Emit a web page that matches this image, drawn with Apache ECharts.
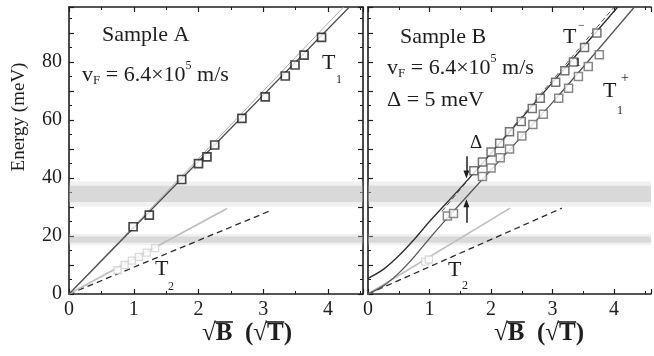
<!DOCTYPE html>
<html>
<head>
<meta charset="utf-8">
<script src="https://cdn.jsdelivr.net/npm/echarts@6/dist/echarts.min.js"></script>
<style>
  html, body { margin: 0; padding: 0; background: #ffffff; }
  #chart { width: 654px; height: 356px; }
</style>
</head>
<body>
<div id="chart"></div>
<script>
// ---- Sample A: magneto-optical transitions, E vs sqrt(B) ----
const aT1X = [0.99, 1.24, 1.74, 2.00, 2.13, 2.25, 2.67, 3.03, 3.34, 3.49, 3.63, 3.90];
const aT1E = [23.2, 27.2, 39.5, 45.0, 47.3, 51.4, 60.6, 68.0, 75.2, 79.0, 82.4, 88.5];
const aT2X = [0.75, 0.86, 0.97, 1.08, 1.20, 1.33];
const aT2E = [8.2, 10.0, 11.5, 12.8, 14.3, 15.8];
const aLineT1 = [[0, 0], [4.33, 99]];
const aLineT1b = [[0, 0], [4.24, 99]];
const aLineGray = [[0, 0], [2.44, 29.5]];
const aLineT2 = [[0, 0], [3.14, 29.0]];

// ---- Sample B: gapped spectrum, split T1 transitions ----
const bT1mX = [1.72, 1.86, 2.00, 2.14, 2.30, 2.49, 2.67, 2.80, 3.05, 3.20, 3.34, 3.52, 3.72];
const bT1mE = [42.5, 45.5, 49.0, 52.0, 56.0, 59.5, 64.0, 67.5, 73.0, 77.0, 80.0, 85.0, 90.0];
const bT1pX = [1.29, 1.39, 1.86, 2.00, 2.15, 2.30, 2.50, 2.68, 2.85, 3.10, 3.26, 3.42, 3.58, 3.76];
const bT1pE = [26.9, 27.8, 40.5, 43.5, 47.0, 50.0, 54.5, 58.5, 62.0, 67.5, 71.0, 75.0, 78.5, 82.5];
const bT2X = [0.93, 0.99];
const bT2E = [11.2, 11.9];
const bLineT1m = [[0, 5.4], [0.25, 8.5], [0.5, 13.2], [0.75, 18.8], [1.0, 25.0], [1.5, 36.5], [2.0, 48.5], [3.0, 73.0], [4.06, 99]];
const bLineT1mDash = [[1.2, 28.5], [4.0, 99]];
const bLineT1p = [[0, 0], [0.25, 2.8], [0.5, 7.2], [0.75, 12.8], [1.0, 19.2], [1.31, 26.7], [2.0, 42.8], [3.0, 66.1], [4.33, 99]];
const bLineGray = [[0, 0], [2.31, 29.6]];
const bLineT2 = [[0, 0], [3.15, 29.6]];
const gapArrowX = 1.6;
const gapArrowDown = [47.5, 41.2];
const gapArrowUp = [24.6, 31.3];

// Absorption bands (meV)
const bandUpper = [31.0, 38.0];
const bandLower = [17.3, 20.2];

// Axis ranges / ticks
const xMaxA = 4.54, xMaxB = 4.6, yMax = 99;
const xTickStep = 1, yTickStep = 10, yLabelStep = 20;

const SERIF = '"Liberation Serif", "Times New Roman", serif';
const INK = '#1e1e1e';

function zip(xs, ys) { return xs.map((x, i) => [x, ys[i]]); }

function xAxisCfg(grid, max, pos, labels) {
  return {
    type: 'value', gridIndex: grid, position: pos, min: 0, max: max, interval: xTickStep,
    axisLine: { show: true, onZero: false, lineStyle: { color: INK, width: 1.6 } },
    axisTick: { show: true, inside: true, length: 5, lineStyle: { color: INK, width: 1.2 } },
    minorTick: { show: true, splitNumber: 2, length: 3, lineStyle: { color: INK, width: 1 } },
    axisLabel: {
      show: labels, margin: 6, color: INK, fontFamily: SERIF, fontSize: 20,
      formatter: v => Math.abs(v - Math.round(v)) < 1e-6 ? String(Math.round(v)) : ''
    },
    splitLine: { show: false }
  };
}
function yAxisCfg(grid, pos, labels) {
  return {
    type: 'value', gridIndex: grid, position: pos, min: 0, max: yMax, interval: yTickStep,
    axisLine: { show: true, onZero: false, lineStyle: { color: INK, width: 1.6 } },
    axisTick: { show: true, inside: true, length: 5, lineStyle: { color: INK, width: 1.2 } },
    minorTick: { show: true, splitNumber: 2, length: 3, lineStyle: { color: INK, width: 1 } },
    axisLabel: {
      show: labels, margin: 7, color: INK, fontFamily: SERIF, fontSize: 20,
      formatter: v => (Math.abs(v % yLabelStep) < 1e-6 && v <= 80) ? String(v) : ''
    },
    splitLine: { show: false }
  };
}

function bands() {
  const halo = 'rgba(185,185,185,0.22)';
  const core = 'rgba(180,180,180,0.38)';
  return {
    silent: true,
    data: [
      [{ yAxis: bandUpper[0] - 0.8, itemStyle: { color: halo } }, { yAxis: bandUpper[1] + 0.8 }],
      [{ yAxis: bandUpper[0] + 0.7, itemStyle: { color: core } }, { yAxis: bandUpper[1] - 0.7 }],
      [{ yAxis: bandLower[0] - 0.5, itemStyle: { color: halo } }, { yAxis: bandLower[1] + 0.5 }],
      [{ yAxis: bandLower[0] + 0.4, itemStyle: { color: core } }, { yAxis: bandLower[1] - 0.4 }]
    ]
  };
}

function line(xi, yi, data, color, width, type, extra) {
  return Object.assign({
    type: 'line', xAxisIndex: xi, yAxisIndex: yi, data: data, showSymbol: false, z: 3,
    lineStyle: { color: color, width: width, type: type || 'solid' }, silent: true
  }, extra || {});
}
function squares(xi, yi, data, stroke, size, bw) {
  return {
    type: 'scatter', xAxisIndex: xi, yAxisIndex: yi, data: data, symbol: 'rect', symbolSize: size, z: 5,
    itemStyle: { color: '#ffffff', borderColor: stroke, borderWidth: bw || 1.5 }, silent: true
  };
}

// ---- text layout helpers ----
const ctx = document.createElement('canvas').getContext('2d');
function textW(t, size, weight) {
  ctx.font = (weight || 'normal') + ' ' + size + 'px ' + SERIF;
  return ctx.measureText(t).width;
}
function txt(t, x, y, size, opts) {
  opts = opts || {};
  return {
    type: 'text', x: x, y: y, rotation: opts.rotation || 0, z: 20, silent: true,
    style: {
      text: t, fill: opts.color || INK,
      font: (opts.weight || 'normal') + ' ' + size + 'px ' + SERIF,
      align: opts.align || 'left', textAlign: opts.align || 'left',
      verticalAlign: 'middle', textVerticalAlign: 'middle'
    }
  };
}
// A run of text pieces [text, size, dy] laid out left to right
function run(pieces, x, y) {
  const out = [];
  let cx = x;
  pieces.forEach(p => {
    out.push(txt(p[0], cx, y + (p[2] || 0), p[1]));
    cx += textW(p[0], p[1]);
  });
  return out;
}
// "√B (√T)" axis title with the radical bars drawn over B and T
function sqrtTitle(cx, cy) {
  const s = 25, w = 'bold';
  const parts = ['√', 'B', '  (', '√', 'T', ')'];
  const widths = parts.map(p => textW(p, s, w));
  const total = widths.reduce((a, b) => a + b, 0);
  let x = cx - total / 2;
  const els = [];
  parts.forEach((p, i) => {
    els.push(txt(p, x, cy, s, { weight: w }));
    if (p === 'B' || p === 'T') {
      els.push({
        type: 'line', z: 20, silent: true,
        shape: { x1: x - 1, y1: cy - 12, x2: x + widths[i] + 0.5, y2: cy - 12 },
        style: { stroke: INK, lineWidth: 1.6 }
      });
    }
    x += widths[i];
  });
  return els;
}

const graphics = [].concat(
  [txt('Energy (meV)', 19, 117, 19, { rotation: Math.PI / 2, align: 'center' })],
  sqrtTitle(247, 334),
  sqrtTitle(539, 334),
  // Sample A labels
  [txt('Sample A', 102, 35, 22)],
  run([['v', 22], ['F', 13, 6], [' = 6.4×10', 22], ['5', 12, -9], [' m/s', 22]], 82, 75),
  [txt('T', 322, 63, 22), txt('1', 336, 80, 12)],
  [txt('T', 155, 269, 22), txt('2', 168, 287, 12)],
  // Sample B labels
  [txt('Sample B', 400, 37, 22)],
  run([['v', 22], ['F', 13, 6], [' = 6.4×10', 22], ['5', 12, -9], [' m/s', 22]], 387, 68),
  [txt('Δ = 5 meV', 387, 100, 22)],
  [txt('T', 563, 37, 22), txt('−', 578, 26, 12), txt('1', 575, 63, 12)],
  [txt('T', 603, 91, 22), txt('+', 621, 78, 14), txt('1', 617, 111, 12)],
  [txt('T', 448, 270, 22), txt('2', 462, 286, 12)],
  [txt('Δ', 470, 143, 19)]
);

const option = {
  animation: false,
  backgroundColor: '#ffffff',
  grid: [
    { left: 69, top: 7, width: 294, height: 287 },
    { left: 368, top: 7, width: 299, height: 287 }
  ],
  xAxis: [
    xAxisCfg(0, xMaxA, 'bottom', true),
    xAxisCfg(0, xMaxA, 'top', false),
    xAxisCfg(1, xMaxB, 'bottom', true),
    xAxisCfg(1, xMaxB, 'top', false)
  ],
  yAxis: [
    yAxisCfg(0, 'left', true),
    yAxisCfg(0, 'right', false),
    yAxisCfg(1, 'left', false)
  ],
  series: [
    // Sample A
    line(0, 0, aLineT2, '#2a2a2a', 1.3, [6, 4], { markArea: bands(), z: 2 }),
    line(0, 0, aLineGray, '#bdbdbd', 1.6),
    line(0, 0, aLineT1b, '#ababab', 1.0),
    line(0, 0, aLineT1, '#4a4a4a', 1.2),
    squares(0, 0, zip(aT2X, aT2E), '#d0d0d0', 7, 1.3),
    squares(0, 0, zip(aT1X, aT1E), '#1a1a1a', 8, 1.7),
    // Sample B
    line(2, 2, bLineT2, '#2a2a2a', 1.3, [6, 4], { markArea: bands(), z: 2 }),
    line(2, 2, bLineGray, '#bdbdbd', 1.6),
    line(2, 2, bLineT1p, '#555555', 1.3, 'solid', { smooth: 0.3 }),
    line(2, 2, bLineT1m, '#2a2a2a', 1.3, 'solid', { smooth: 0.3 }),
    line(2, 2, bLineT1mDash, '#555555', 1.0, [5, 3]),
    squares(2, 2, zip(bT2X, bT2E), '#d0d0d0', 7, 1.3),
    squares(2, 2, zip(bT1mX, bT1mE), '#505050', 8),
    squares(2, 2, zip(bT1pX, bT1pE), '#6a6a6a', 8),
    {
      type: 'line', xAxisIndex: 2, yAxisIndex: 2, data: [], silent: true,
      markLine: {
        silent: true, symbol: ['none', 'triangle'], symbolSize: [6, 8],
        label: { show: false },
        lineStyle: { color: INK, width: 1.5, type: 'solid' },
        data: [
          [{ coord: [gapArrowX, gapArrowDown[0]] }, { coord: [gapArrowX, gapArrowDown[1]] }],
          [{ coord: [gapArrowX, gapArrowUp[0]] }, { coord: [gapArrowX, gapArrowUp[1]] }]
        ]
      }
    }
  ],
  graphic: graphics
};

const chart = echarts.init(document.getElementById('chart'), null, { renderer: 'canvas' });
chart.setOption(option);
</script>
</body>
</html>
